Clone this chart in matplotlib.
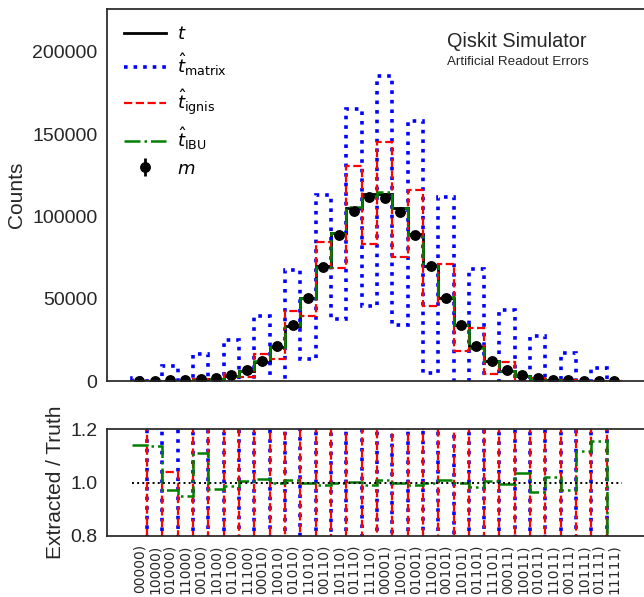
import numpy as np
import matplotlib
matplotlib.use('Agg')
import matplotlib.pyplot as plt

plt.rcParams['font.family'] = ['Liberation Sans', 'DejaVu Sans']
plt.rcParams['mathtext.fontset'] = 'dejavusans'

# ---------------- data ----------------
state_labels = ['00000)', '10000)', '01000)', '11000)', '00100)', '10100)', '01100)', '11100)',
                '00010)', '10010)', '01010)', '11010)', '00110)', '10110)', '01110)', '11110)',
                '00001)', '10001)', '01001)', '11001)', '00101)', '10101)', '01101)', '11101)',
                '00011)', '10011)', '01011)', '11011)', '00111)', '10111)', '01111)', '11111)']

truth = [10, 30, 80, 230, 600, 1400, 3100, 6300, 11800, 20600, 33600, 50200, 69800, 89700, 105300, 113600,
         113400, 105100, 89500, 70000, 50400, 33800, 20500, 11900, 6200, 3000, 1350, 560, 220, 75, 25, 8]

measured = [120, 200, 350, 600, 1000, 1800, 3600, 6800, 12200, 21000, 34000, 50600, 69500, 88600, 103000, 111500,
            111300, 102900, 88400, 69700, 50700, 34200, 21100, 12300, 6700, 3500, 1800, 900, 450, 250, 150, 100]

t_matrix = [1800, -8000, 9150, -14000, 16300, -20000, 25000, -28000, 39200, -12000, 67300, 13400, 112900, 37600,
            165300, 45750, 185200, 34200, 157800, 4700, 112000, -15000, 68300, -25000, 42900, -22000, 27450,
            -16000, 16900, -10000, 7700, -5000]

t_ignis = [40, 0, 83, 0, 1100, 600, 4700, 2600, 16500, 13400, 42300, 39200, 84500, 68700, 130700, 83400,
           145000, 75200, 115900, 45750, 71200, 18300, 32100, 4100, 11400, 0, 2100, 0, 600, 0, 150, 0]

t_ibu = [11.4, 34.1, 77.8, 218.5, 666, 1366, 3063, 6338, 11942, 20600, 33936, 50200, 69102, 89700, 105616, 112464,
         114534, 105100, 88605, 70000, 50904, 33800, 20152, 11960, 6169, 3108, 1303, 571, 214, 83.8, 28.9, 4.8]

# ---------------- layout ----------------
W, H = 644, 597
fig = plt.figure(figsize=(W / 100, H / 100), dpi=100)


def box(l, t, r, b):
    return [l / W, 1 - b / H, (r - l) / W, (b - t) / H]


ax1 = fig.add_axes(box(107, 9, 644, 381))
ax2 = fig.add_axes(box(107, 429, 644, 536))

n = len(truth)
x = np.arange(n)
edges = np.arange(n + 1) - 0.5
truth_a = np.array(truth, float)
meas_a = np.array(measured, float)

# ---------------- upper panel ----------------
ax1.stairs(truth, edges, color='black', lw=2, baseline=0, label=r'$t$')
ax1.stairs(t_matrix, edges, color='blue', ls=':', lw=2.6, baseline=0, label=r'$\hat{t}_\mathrm{matrix}$')
ax1.stairs(t_ignis, edges, color='red', ls='--', lw=1.6, baseline=0, label=r'$\hat{t}_\mathrm{ignis}$')
ax1.stairs(t_ibu, edges, color='green', ls='-.', lw=1.8, baseline=0, label=r'$\hat{t}_\mathrm{IBU}$')
ax1.errorbar(x, measured, yerr=np.sqrt(meas_a), fmt='o', color='black', ms=6.8, lw=2, label=r'$m$')

ax1.set_xlim(-2.11, 32.93)
ax1.set_ylim(0, 226000)
ax1.set_xticks([])
ax1.set_yticks([0, 50000, 100000, 150000, 200000])
ax1.set_ylabel('Counts', fontsize=15, color='.15')

leg = ax1.legend(loc='upper left', bbox_to_anchor=(0.0, 1.0), frameon=False, fontsize=13,
                 handlelength=2.3, labelspacing=0.47, borderaxespad=0.55, handletextpad=0.6)

ax1.text(0.633, 0.898, 'Qiskit Simulator', transform=ax1.transAxes, fontsize=14.3,
         ha='left', va='baseline', color='.15')
ax1.text(0.633, 0.849, 'Artificial Readout Errors', transform=ax1.transAxes, fontsize=9.6,
         ha='left', va='baseline', color='.15')

# ---------------- ratio panel ----------------
ax2.stairs(np.array(t_matrix) / truth_a, edges, color='blue', ls=':', lw=2.6, baseline=None)
ax2.stairs(np.array(t_ignis) / truth_a, edges, color='red', ls='--', lw=1.6, baseline=None)
ax2.stairs(np.array(t_ibu) / truth_a, edges, color='green', ls='-.', lw=1.8, baseline=None)
ax2.hlines(1.0, edges[0], edges[-1], colors='black', linestyles=':', lw=1.4)

ax2.set_xlim(-2.11, 32.93)
ax2.set_ylim(0.8, 1.2)
ax2.set_yticks([0.8, 1.0, 1.2])
ax2.set_yticklabels(['0.8', '1.0', '1.2'])
ax2.set_xticks(x)
ax2.set_xticklabels(state_labels, rotation=90, fontsize=10, family='DejaVu Sans', color='.15')
ax2.set_ylabel('Extracted / Truth', fontsize=15, color='.15')

for ax in (ax1, ax2):
    ax.spines['right'].set_visible(False)
    for s in ('left', 'top', 'bottom'):
        ax.spines[s].set_color('.15')
        ax.spines[s].set_linewidth(1.25)
    ax.tick_params(axis='both', length=0, colors='.15')
    ax.tick_params(axis='y', labelsize=14, pad=7)
    ax.tick_params(axis='x', pad=6)

fig.savefig('out.png', dpi=100)
